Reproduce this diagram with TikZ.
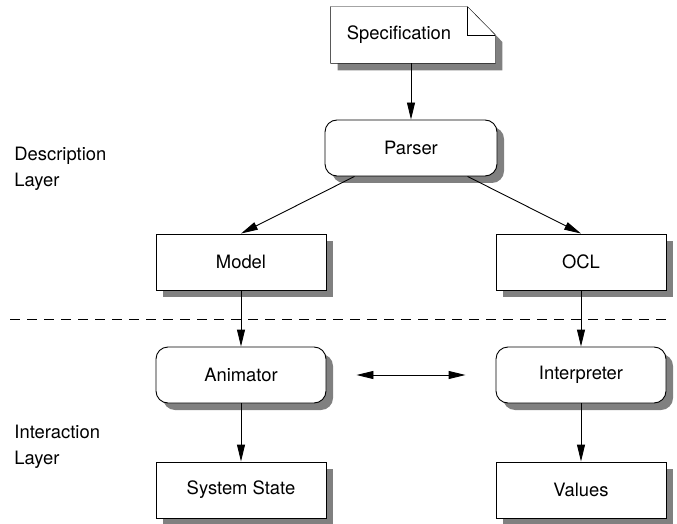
\documentclass[tikz,border=0pt]{standalone}
\usepackage{fontspec}
\setmainfont{TeX Gyre Heros}
\usepackage{tikz}
\usetikzlibrary{positioning,shadows,arrows.meta,backgrounds}
\newcommand{\labelfont}{\fontsize{18.4}{26}\selectfont}
\tikzset{
node distance=114pt, % grid step between two rows
box/.style={draw, fill=white, minimum width=170pt, minimum height=56pt, inner sep=0pt, font=\labelfont,
  general shadow={fill=black!50, shadow xshift=7pt, shadow yshift=-7pt}},
roundbox/.style={box, rounded corners=12pt},
notebox/.style={minimum width=136pt, minimum height=56pt, inner sep=0pt, font=\labelfont},
layer/.style={align=left, anchor=west, inner sep=0pt, font=\labelfont},
}

\begin{document}
\begin{tikzpicture}[x=1pt,y=1pt,on grid,line width=0.9pt,>={Triangle[length=17pt,width=8pt]}]
		\useasboundingbox (0,0) rectangle (677,523);
		\node[roundbox, minimum width=172pt] (parser) at (411,375) {Parser};
		\node[notebox] (spec) [above=113pt of parser, xshift=-12pt] {Specification};
		\node[box] (model) [below left=114pt and 170pt of parser] {Model};
		\node[box] (ocl) [below right=114pt and 170pt of parser] {OCL};
		\node[roundbox] (animator) [below=113pt of model] {Animator};
		\node[roundbox] (interp) [below=113pt of ocl] {Interpreter};
		\node[box] (state) [below=115pt of animator] {System State};
		\node[box] (values) [below=115pt of interp] {Values};
		% the note with its folded corner
		\begin{scope}[on background layer]
		\fill[black!50, transform canvas={shift={(7pt,-7pt)}}] (spec.north west) -- (spec.north east) -- ([xshift=28pt]spec.east)
			-- ([xshift=28pt]spec.south east) -- (spec.south west) -- cycle;
		\filldraw[fill=white] (spec.north west) -- (spec.north east) -- ([xshift=28pt]spec.east)
			-- ([xshift=28pt]spec.south east) -- (spec.south west) -- cycle;
		\draw (spec.north east) -- (spec.east) -- ([xshift=28pt]spec.east);
		\end{scope}
		\node[layer] (desc) at (14,354) {Description\\Layer};
		\node[layer] (inter) at (14,76) {Interaction\\Layer};
		\coordinate (dashl) at (10,204);
		\coordinate (dashr) at (670,204);
		\draw[dash pattern=on 10pt off 7pt, line width=0.8pt] (dashl) -- (dashr);
		\path[->]
		(spec.south -| parser.north) edge (parser.north)
		(parser) edge (model.north)
		(parser) edge (ocl.north)
		(model) edge (animator)
		(ocl) edge (interp)
		(animator) edge (state)
		(interp) edge (values);
		\draw[<->] ([xshift=30pt]animator.east) -- ([xshift=-30pt]interp.west);
		\end{tikzpicture}
\end{document}
